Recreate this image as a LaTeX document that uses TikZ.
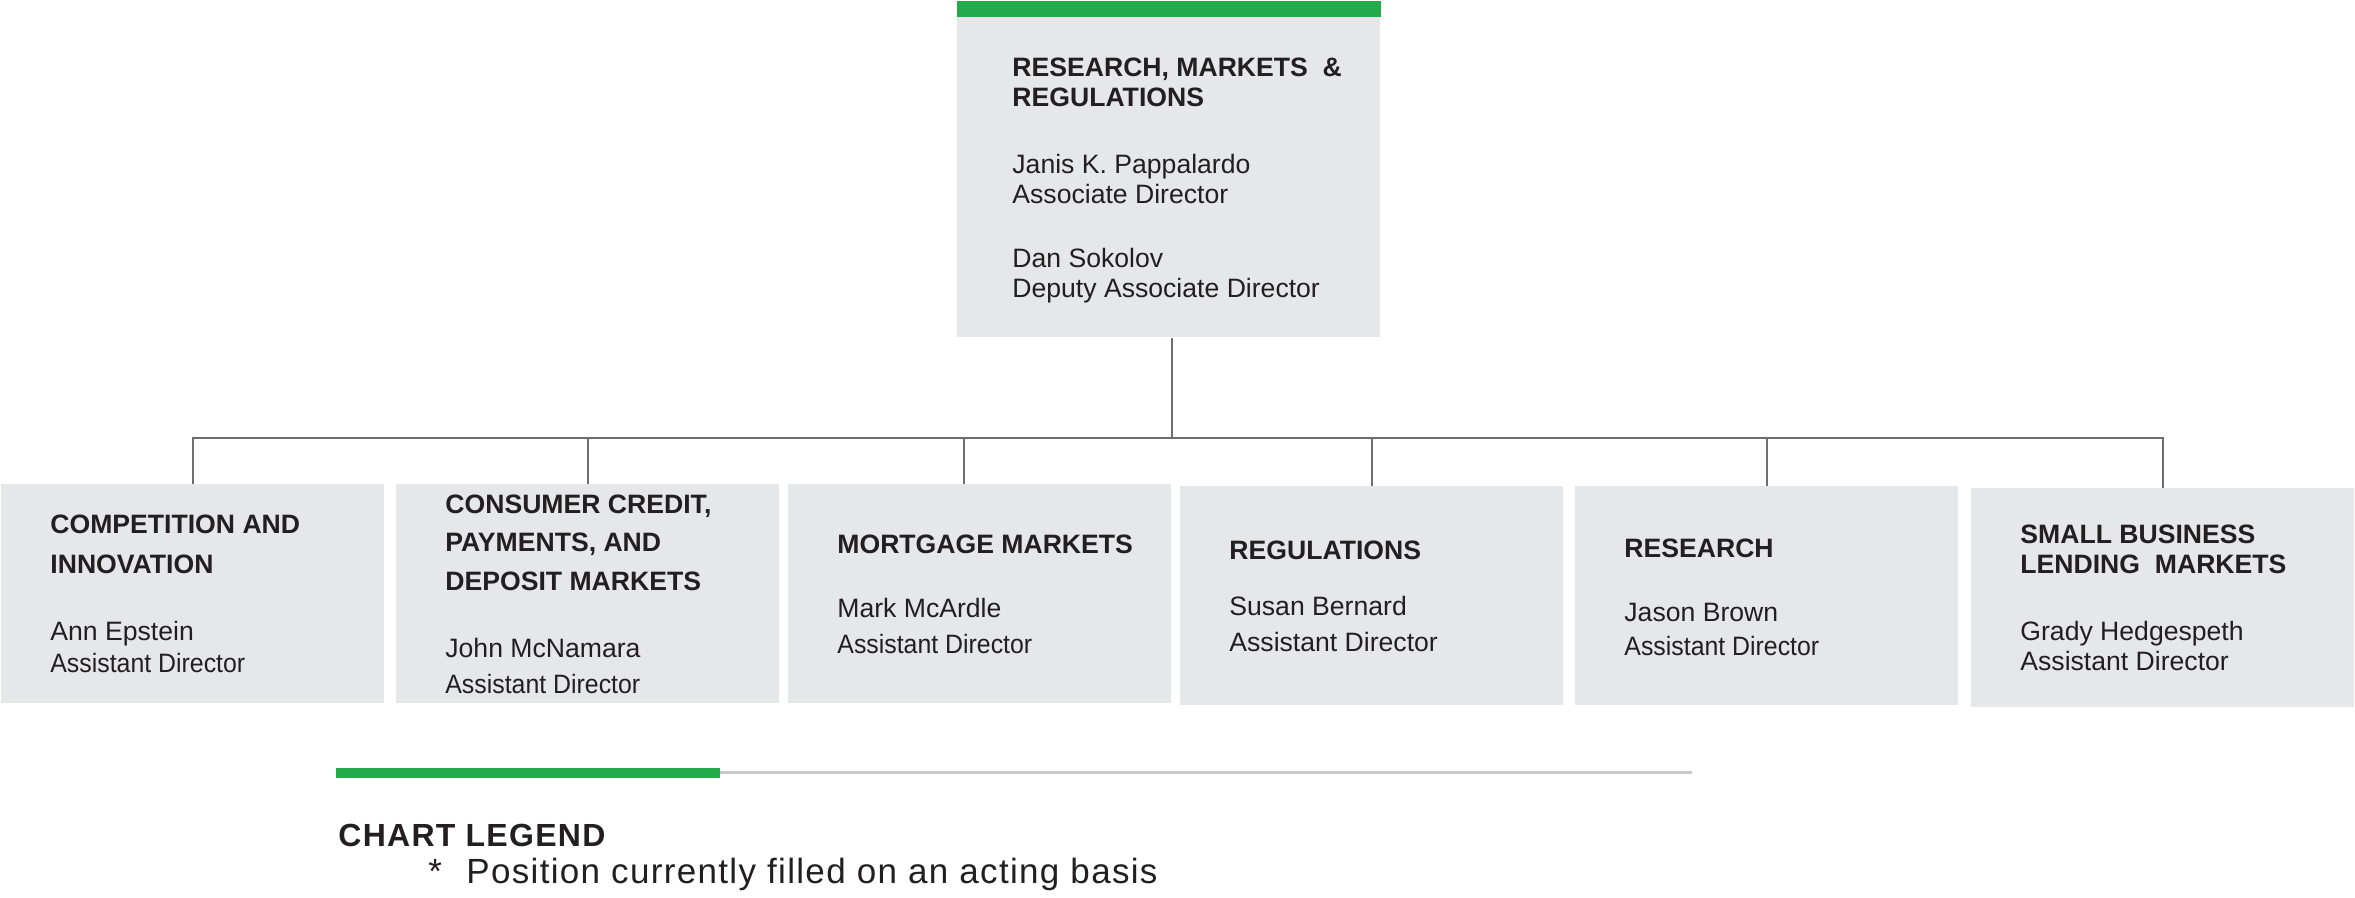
\documentclass[tikz,border=0pt]{standalone}
\usepackage{fontspec}
\setmainfont{Liberation Sans}
\usetikzlibrary{calc}
\definecolor{boxgray}{HTML}{E6E7E8}
\definecolor{rmgreen}{RGB}{34,170,75}
\definecolor{linegray}{HTML}{6D6E71}
\definecolor{rulegray}{HTML}{C8C8C8}
\definecolor{ink}{HTML}{231F20}
\newcommand{\squeeze}[1]{{\addfontfeature{FakeStretch=0.935}#1}}
\tikzset{
  unit/.style={fill=boxgray, inner sep=0, anchor=north west, minimum width=191.5pt, minimum height=109.5pt},
  head/.style={anchor=base west, inner sep=0, align=left, text=ink, font=\bfseries\fontsize{13.3}{#1}\selectfont},
  head/.default=15,
  who/.style={anchor=base west, inner sep=0, align=left, text=ink, font=\fontsize{13.3}{#1}\selectfont},
  who/.default=15,
  link/.style={draw=linegray, line width=1pt},
}
\begin{document}
\begin{tikzpicture}[x=0.5pt,y=-0.5pt]
\useasboundingbox (0,0) rectangle (2355,898);
% top unit
\node[unit, minimum width=211.5pt, minimum height=160pt] (top) at (957,17) {};
\fill[rmgreen] (top.north west) rectangle ([yshift=8pt]top.north east);
\node[head] (toph) at ([xshift=27.5pt,yshift=-45pt]top.north west) {RESEARCH, MARKETS\ \ \&\\REGULATIONS};
\node[who] (topw) at ([xshift=27.5pt,yshift=-140.5pt]top.north west) {Janis K. Pappalardo\\Associate Director\\[17pt]Dan Sokolov\\Deputy Associate Director};
% offices
\node[unit] (b1) at (1,484) {};
\node[unit] (b2) at (396,484) {};
\node[unit] (b3) at (788,484) {};
\node[unit] (b4) at (1180,486) {};
\node[unit] (b5) at (1575,486) {};
\node[unit] (b6) at (1971,488) {};
\node[head=20] (b1h) at ([xshift=24.5pt,yshift=-44.5pt]b1.north west) {COMPETITION AND\\INNOVATION};
\node[who=16] (b1w) at ([xshift=24.5pt,yshift=-94pt]b1.north west) {Ann Epstein\\\squeeze{Assistant Director}};
\node[head=19.25] (b2h) at ([xshift=24.5pt,yshift=-53pt]b2.north west) {CONSUMER CREDIT,\\PAYMENTS, AND\\DEPOSIT MARKETS};
\node[who=18] (b2w) at ([xshift=24.5pt,yshift=-104.5pt]b2.north west) {John McNamara\\\squeeze{Assistant Director}};
\node[head] (b3h) at ([xshift=24.5pt,yshift=-34.5pt]b3.north west) {MORTGAGE MARKETS};
\node[who=18] (b3w) at ([xshift=24.5pt,yshift=-84.5pt]b3.north west) {Mark McArdle\\\squeeze{Assistant Director}};
\node[head] (b4h) at ([xshift=24.5pt,yshift=-36.5pt]b4.north west) {REGULATIONS};
\node[who=18] (b4w) at ([xshift=24.5pt,yshift=-82.5pt]b4.north west) {Susan Bernard\\Assistant Director};
\node[head] (b5h) at ([xshift=24.5pt,yshift=-35.5pt]b5.north west) {RESEARCH};
\node[who=17] (b5w) at ([xshift=24.5pt,yshift=-84.5pt]b5.north west) {Jason Brown\\\squeeze{Assistant Director}};
\node[head] (b6h) at ([xshift=24.5pt,yshift=-42.5pt]b6.north west) {SMALL BUSINESS\\LENDING\ \ MARKETS};
\node[who] (b6w) at ([xshift=24.5pt,yshift=-91pt]b6.north west) {Grady Hedgespeth\\Assistant Director};
% connectors
\coordinate (bus) at (0,438);
\draw[link] ([xshift=1.75pt]top.south) -- ([xshift=1.75pt]top.south |- bus);
\draw[link] (b1.north) -- (b1.north |- bus) -- (b6.north |- bus) -- (b6.north);
\foreach \b in {b2,b4,b5} \draw[link] (\b.north) -- (\b.north |- bus);
\draw[link] ([xshift=-7.75pt]b3.north) -- ([xshift=-7.75pt]b3.north |- bus);
% legend
\fill[rmgreen] (336,768) rectangle (720,778);
\draw[rulegray, line width=1.5pt] (720,772.5) -- (1692,772.5);
\node[anchor=base west, inner sep=0, text=ink, font=\bfseries\fontsize{16}{18}\selectfont\addfontfeature{LetterSpace=4}] (legend) at (338,846) {CHART LEGEND};
\node[anchor=base west, inner sep=0, text=ink, font=\fontsize{17.5}{18}\selectfont] (star) at (428,883) {*};
\node[anchor=base west, inner sep=0, text=ink, font=\fontsize{17.5}{18}\selectfont\addfontfeature{LetterSpace=3.8}] (note) at (466,883) {Position currently filled on an acting basis};
\end{tikzpicture}
\end{document}
